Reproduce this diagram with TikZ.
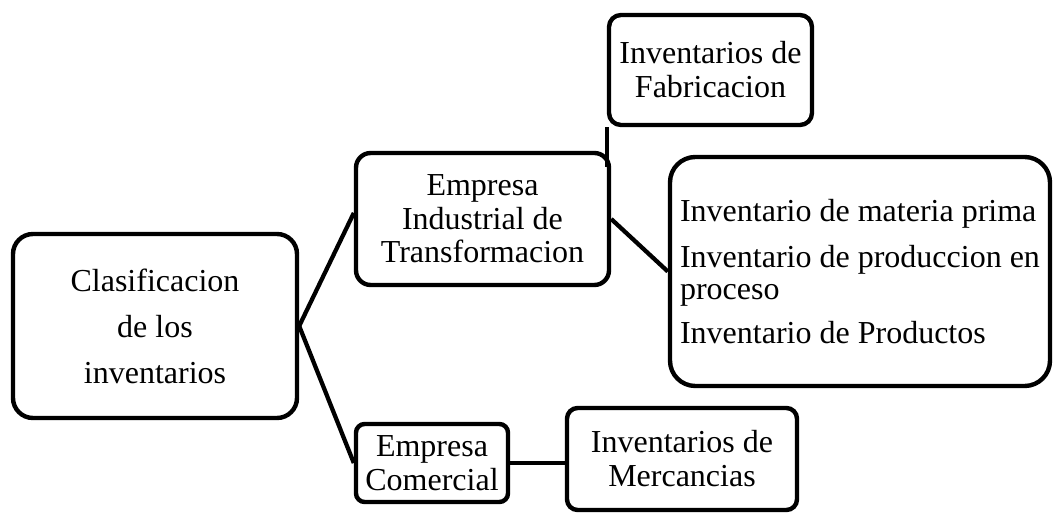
\documentclass[tikz,border=0pt]{standalone}
\usepackage{fontspec}
\setmainfont{Liberation Serif}
\usetikzlibrary{calc}
\begin{document}
\begin{tikzpicture}[x=0.75pt,y=-0.75pt,
  box/.style={draw=black, line width=3.3pt, fill=white, rectangle, inner sep=0pt, align=center},
  link/.style={draw=black, line width=3.2pt}]
\useasboundingbox (0,0) rectangle (1054,513);
% connectors first (behind boxes)
\coordinate (pA) at (155,326);
\node[box, rounded corners=15pt, minimum width=213pt, minimum height=138pt,
  font=\fontsize{24}{34.5}\selectfont] (A) at (155,326) {Clasificacion\\de los\\inventarios};
\node[box, rounded corners=11pt, minimum width=189.75pt, minimum height=99pt,
  font=\fontsize{24}{25}\selectfont] (B) at (482.5,219) {Empresa\\Industrial de\\Transformacion};
\node[box, rounded corners=9pt, minimum width=152.25pt, minimum height=82.5pt,
  font=\fontsize{24}{25.5}\selectfont] (C) at (710.5,70) {Inventarios de\\Fabricacion};
\node[box, rounded corners=19pt, minimum width=285pt, minimum height=171.75pt, align=left,
  font=\fontsize{24}{24}\selectfont] (D) at (860,271.5) {Inventario de materia prima\\[11pt]Inventario de produccion en\\proceso\\[9pt]Inventario de Productos};
\node[box, rounded corners=6.5pt, minimum width=114pt, minimum height=58.5pt,
  font=\fontsize{24}{25.5}\selectfont] (E) at (432,463) {Empresa\\Comercial};
\node[box, rounded corners=8pt, minimum width=172.5pt, minimum height=76.5pt,
  font=\fontsize{24}{25.5}\selectfont] (F) at (682,459) {Inventarios de\\Mercancias};
% connectors
\draw[link] (A.east) -- ($(B.west)+(0,-6)$);
\draw[link] (A.east) -- (E.west);
\draw[link] (C.south west) -- ($(C.south west |- B.north)+(0,16)$);
\draw[link] (B.east) -- (D.west);
\draw[link] (E.east) -- (E.east -| F.west);
\end{tikzpicture}
\end{document}
